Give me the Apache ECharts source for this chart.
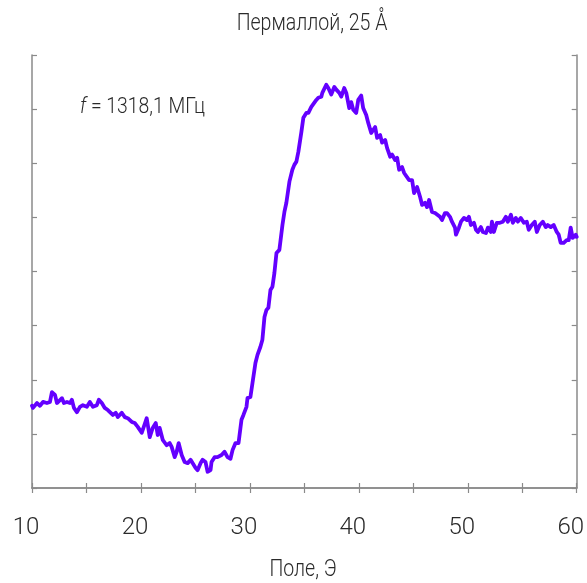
<!DOCTYPE html>
<html>
<head>
<meta charset="utf-8">
<script src="https://cdn.jsdelivr.net/npm/echarts@6/dist/echarts.min.js"></script>
<style>html,body{margin:0;padding:0;background:#fff}#c{width:587px;height:583px}</style>
</head>
<body>
<div id="c"></div>
<script>
// Field values (Э)
const field = [10.00,10.09,10.46,10.73,11.01,11.37,11.65,11.83,12.11,12.29,12.75,12.93,13.21,13.48,13.66,13.85,14.12,14.40,14.67,15.04,15.31,15.59,15.95,16.14,16.41,16.68,16.96,17.42,17.69,17.88,18.24,18.52,18.79,19.16,19.43,19.71,20.07,20.26,20.53,20.81,21.08,21.36,21.54,21.72,22.00,22.36,22.64,22.82,23.10,23.28,23.46,23.74,24.01,24.29,24.56,24.74,25.02,25.20,25.48,25.66,25.93,26.12,26.39,26.48,26.76,27.03,27.40,27.67,27.95,28.22,28.41,28.68,28.96,29.23,29.41,29.69,29.78,30.05,30.24,30.51,30.70,30.97,31.15,31.34,31.52,31.70,31.89,32.07,32.25,32.44,32.71,32.99,33.17,33.35,33.63,33.90,34.08,34.27,34.45,34.73,34.91,35.18,35.37,35.64,35.82,36.10,36.28,36.56,36.65,36.83,37.01,37.20,37.47,37.75,37.93,38.21,38.39,38.66,38.85,39.12,39.30,39.49,39.76,39.95,40.22,40.40,40.68,40.86,41.14,41.32,41.50,41.68,41.96,42.14,42.42,42.60,42.88,43.06,43.33,43.52,43.70,43.97,44.16,44.34,44.62,44.89,45.07,45.35,45.62,45.81,46.08,46.26,46.45,46.72,47.00,47.18,47.45,47.64,47.91,48.10,48.37,48.55,48.83,48.92,49.19,49.38,49.65,49.93,50.11,50.29,50.57,50.75,50.93,51.21,51.39,51.67,51.85,52.12,52.22,52.40,52.67,52.95,53.22,53.50,53.68,53.96,54.14,54.41,54.60,54.87,55.15,55.42,55.60,55.88,56.15,56.34,56.61,56.89,57.16,57.34,57.62,57.89,58.17,58.35,58.53,58.81,59.08,59.27,59.45,59.63,59.91,60.00];
// Signal (arb. units)
const signal = [1.52,1.48,1.57,1.52,1.59,1.57,1.59,1.77,1.72,1.57,1.66,1.57,1.59,1.57,1.63,1.48,1.40,1.50,1.53,1.50,1.59,1.50,1.53,1.63,1.57,1.48,1.44,1.35,1.39,1.31,1.39,1.31,1.29,1.22,1.20,1.13,1.02,1.13,1.29,0.94,1.11,1.20,0.98,1.11,0.89,0.79,0.83,0.76,0.57,0.67,0.83,0.61,0.48,0.46,0.52,0.55,0.37,0.33,0.46,0.52,0.48,0.30,0.33,0.48,0.57,0.57,0.61,0.67,0.57,0.54,0.70,0.83,0.83,1.26,1.35,1.50,1.66,1.68,1.94,2.31,2.46,2.61,2.74,3.16,3.29,3.33,3.66,3.72,3.97,4.34,4.40,4.86,5.10,5.27,5.66,5.88,5.97,6.03,6.21,6.58,6.84,6.93,6.93,7.04,7.02,7.17,7.21,7.23,7.30,7.27,7.45,7.39,7.27,7.41,7.36,7.30,7.23,7.39,7.30,7.02,7.13,6.99,6.93,7.17,7.25,7.02,6.89,6.75,6.56,6.56,6.67,6.47,6.52,6.38,6.43,6.28,6.12,6.16,6.06,6.10,5.88,5.93,5.82,5.79,5.69,5.69,5.45,5.56,5.38,5.23,5.27,5.19,5.32,5.10,5.08,5.10,5.01,4.95,5.08,5.08,5.01,4.92,4.81,4.68,4.81,4.92,4.99,4.95,5.01,4.86,4.90,4.77,4.73,4.82,4.73,4.71,4.81,4.73,4.92,4.73,4.90,4.90,4.92,5.01,4.92,5.05,4.90,4.99,4.92,4.99,4.90,4.92,4.77,4.86,4.92,4.73,4.86,4.92,4.82,4.86,4.82,4.86,4.73,4.68,4.53,4.53,4.58,4.58,4.81,4.62,4.68,4.64];
const titleText = 'Пермаллой, 25 Å';
const xName = 'Поле, Э';
const freqLabel = ' = 1318,1 МГц';

const FONT = "Roboto, 'DejaVu Sans', sans-serif";
const TXT = '#2a2a2a';
const axisColor = '#8a8a8a';
const chart = echarts.init(document.getElementById('c'), null, {renderer: 'canvas'});
const frameAxis = () => ({
  axisLine: {show: true, lineStyle: {color: axisColor, width: 1.5}},
  axisTick: {show: true, inside: true, length: 5, lineStyle: {color: axisColor, width: 1.2}},
  splitLine: {show: false}
});
chart.setOption({
  animation: false,
  grid: {left: 32, right: 9, top: 55, bottom: 95, containLabel: false},
  xAxis: [
    Object.assign({type: 'value', min: 10, max: 60, interval: 5, position: 'bottom',
      axisLabel: {show: true, margin: 28, fontFamily: FONT, fontWeight: 300, fontSize: 24, color: TXT, padding: [0, 12, 0, 0],
        formatter: v => (v % 10 === 0 ? String(v) : '')}
    }, frameAxis()),
    Object.assign({type: 'value', min: 10, max: 60, interval: 5, position: 'top', axisLabel: {show: false}}, frameAxis())
  ],
  yAxis: [
    Object.assign({type: 'value', min: 0, max: 8, interval: 1, position: 'left', axisLabel: {show: false}}, frameAxis()),
    Object.assign({type: 'value', min: 0, max: 8, interval: 1, position: 'right', axisLabel: {show: false}}, frameAxis())
  ],
  series: [{
    type: 'line', xAxisIndex: 0, yAxisIndex: 0,
    data: field.map((f, i) => [f, signal[i]]),
    showSymbol: false, smooth: false,
    lineStyle: {color: '#6400ff', width: 3.8, join: 'round', cap: 'round'}
  }],
  graphic: [
    {type: 'text', x: 312, y: 24, scaleX: 0.85,
      style: {text: titleText, textAlign: 'center', textVerticalAlign: 'middle', fontFamily: FONT, fontWeight: 300, fontSize: 23, fill: TXT}},
    {type: 'text', x: 303, y: 570, scaleX: 0.85,
      style: {text: xName, textAlign: 'center', textVerticalAlign: 'middle', fontFamily: FONT, fontWeight: 300, fontSize: 23, fill: TXT}},
    {type: 'text', x: 80, y: 107, scaleX: 0.88,
      style: {
        rich: {i: {fontStyle: 'italic', fontFamily: FONT, fontWeight: 300, fontSize: 22, fill: TXT},
               n: {fontFamily: FONT, fontWeight: 300, fontSize: 22, fill: TXT}},
        text: '{i|f}{n|' + freqLabel + '}', textAlign: 'left', textVerticalAlign: 'middle'
      }}
  ]
});
</script>
</body>
</html>
